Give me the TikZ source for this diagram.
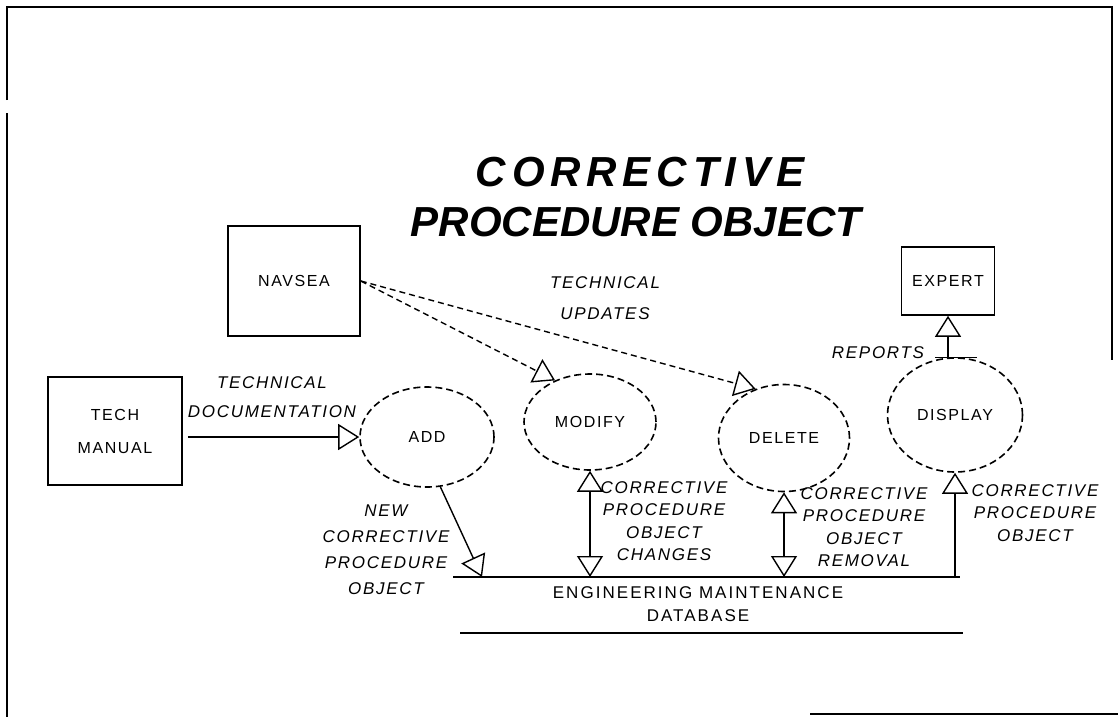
\documentclass[tikz,border=0pt]{standalone}
\usepackage{fontspec}
\setmainfont{Liberation Sans}
\newfontfamily\spacedfont[LetterSpace=10]{Liberation Sans}
\newfontfamily\storefont[LetterSpace=12]{Liberation Sans}
\newfontfamily\widetitlefont[LetterSpace=14]{Liberation Sans}
\usetikzlibrary{arrows.meta,shapes.geometric,positioning}

\tikzset{
  ext/.style={draw, line width=1.6pt, inner sep=0pt, align=center,
              font=\spacedfont\fontsize{16}{33}\selectfont},
  proc/.style={ellipse, draw, dash pattern=on 7pt off 4pt, line width=1.6pt,
               inner sep=0pt, font=\spacedfont\fontsize{16}{20}\selectfont},
  lbl/.style={inner sep=0pt, align=center,
              font=\spacedfont\itshape\fontsize{17}{22.5}\selectfont},
  tip/.tip={Triangle[open, width=26pt, length=21pt, line width=1.4pt]},
  flow/.style={line width=1.4pt, -tip},
  dflow/.style={flow, dash pattern=on 6pt off 4pt},
}

\begin{document}
\begin{tikzpicture}[x=1pt, y=-1pt]
  \useasboundingbox (0,0) rectangle (1118,717);

  % frame of the page
  \draw[line width=1.6pt] (7,100) -- (7,7) -- (1112,7) -- (1112,360);
  \draw[line width=1.6pt] (7,113) -- (7,717);
  \draw[line width=1.6pt] (810,714) -- (1118,714);

  % title
  \node (title1) at (640,172)
    {\widetitlefont\bfseries\itshape\fontsize{42}{50}\selectfont CORRECTIVE};
  \node (title2) at (636,222)
    {\bfseries\itshape\fontsize{42}{50}\selectfont PROCEDURE OBJECT};

  % sources and sinks
  \node[ext, minimum width=132pt, minimum height=110pt] (navsea) at (294,281) {NAVSEA};
  \node[ext, minimum width=134pt, minimum height=108pt] (manual) at (115,431) {TECH\\MANUAL};
  \node[ext, minimum width=93pt,  minimum height=68pt]  (expert) at (948,281) {EXPERT};

  % processes
  \node[proc, minimum width=134pt, minimum height=100pt] (add)     at (427,437) {ADD};
  \node[proc, minimum width=132pt, minimum height=96pt]  (modify)  at (590,422) {MODIFY};
  \node[proc, minimum width=131pt, minimum height=107pt] (delete)  at (784,438) {DELETE};
  \node[proc, minimum width=135pt, minimum height=114pt] (display) at (955,415) {DISPLAY};

  % data store
  \coordinate (dbtl) at (453,577);
  \coordinate (dbtr) at (960,577);
  \coordinate (dbbl) at (460,633);
  \coordinate (dbbr) at (963,633);
  \coordinate (addin) at (482,577);
  \draw[line width=1.6pt] (dbtl) -- (dbtr);
  \draw[line width=1.6pt] (dbbl) -- (dbbr);
  \node[inner sep=0pt, align=center, font=\storefont\fontsize{17}{23}\selectfont]
    (dbtext) at (698,604) {ENGINEERING MAINTENANCE\\DATABASE};

  % flows
  \draw[flow, shorten <=5pt] (manual.east |- add.west) -- (add.west);
  \draw[dflow] (navsea.east) -- (modify.130);
  \draw[dflow] (navsea.east) -- (delete.120);
  \draw[flow] (add.285) -- (addin);
  \draw[flow, tip-tip] (modify.south) -- (modify.south |- dbtl);
  \draw[flow, tip-tip] (delete.south) -- (delete.south |- dbtl);
  \draw[flow] (display.south |- dbtl) -- (display.south);
  \draw[flow] (expert.south |- display.north) -- (expert.south);
  \draw[line width=1.4pt] ([xshift=-20pt]display.north) -- ([xshift=22pt]display.north);

  % flow labels
  \node[lbl] (doclbl)  at (272,397) {TECHNICAL\\[6pt]DOCUMENTATION};
  \node[lbl] (updlbl)  at (605,298) {TECHNICAL\\[9pt]UPDATES};
  \node[lbl, font=\spacedfont\itshape\fontsize{17}{26}\selectfont]
             (newlbl)  at (386,550) {NEW\\CORRECTIVE\\PROCEDURE\\OBJECT};
  \node[lbl] (chglbl)  at (664,521) {CORRECTIVE\\PROCEDURE\\OBJECT\\CHANGES};
  \node[lbl] (remlbl)  at (864,527) {CORRECTIVE\\PROCEDURE\\OBJECT\\REMOVAL};
  \node[lbl] (showlbl) at (1035,513) {CORRECTIVE\\PROCEDURE\\OBJECT};
  \node[lbl] (replbl)  at (878,353) {REPORTS};
\end{tikzpicture}
\end{document}
